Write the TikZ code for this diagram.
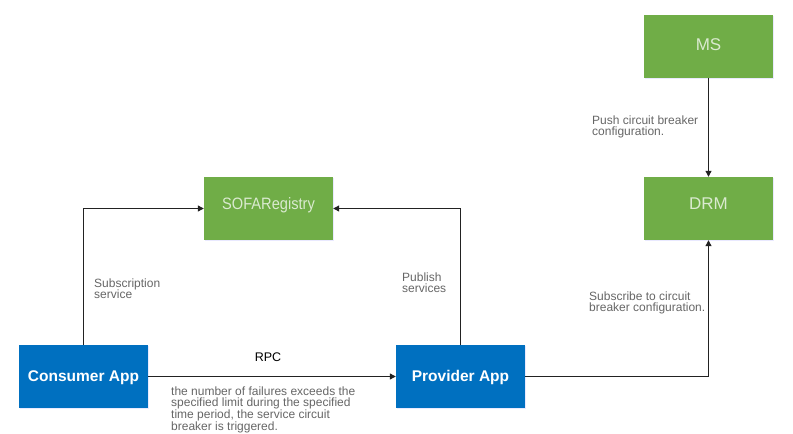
\documentclass[tikz,border=0pt]{standalone}
\usepackage{fontspec}
\setmainfont{Liberation Sans}
\usetikzlibrary{arrows.meta,shadows}
\definecolor{boxgreen}{RGB}{112,173,71}
\definecolor{boxblue}{RGB}{0,112,192}
\definecolor{greentext}{RGB}{218,234,208}
\definecolor{labelgray}{RGB}{102,102,102}
\definecolor{linecol}{RGB}{34,34,34}
\tikzset{
  gbox/.style={fill=boxgreen, draw=none, minimum width=129pt, minimum height=63pt, inner sep=0pt,
    text=greentext, font=\fontsize{17}{17}\selectfont, text height=12pt, text depth=9.6pt,
    drop shadow={shadow xshift=0.8pt, shadow yshift=-1.2pt, fill=blue!25, opacity=0.35}},
  bbox/.style={fill=boxblue, draw=none, minimum width=129pt, minimum height=63pt, inner sep=0pt,
    text=white, font=\fontsize{15.5}{15.5}\selectfont\bfseries, text height=12pt, text depth=3pt,
    drop shadow={shadow xshift=0.8pt, shadow yshift=-1.2pt, fill=blue!25, opacity=0.35}},
  lbl/.style={anchor=north west, inner sep=0pt, align=left, text=labelgray,
    font=\fontsize{12}{11.7}\selectfont},
  conn/.style={draw=linecol, line width=1.1pt, -{Triangle[width=6pt,length=6pt]}},
}
\begin{document}
\begin{tikzpicture}[x=1pt,y=-1pt]
\useasboundingbox (0,0) rectangle (793,434);
\node[gbox] (sofa) at (268.5,208.5) {\scalebox{0.86}[0.97]{SOFARegistry}};
\node[gbox, text depth=4.4pt] (ms) at (708.5,46.5) {MS};
\node[gbox] (drm) at (708.5,208.5) {DRM};
\node[bbox] (cons) at (83.5,376.5) {Consumer App};
\node[bbox] (prov) at (460.5,376.5) {Provider App};

\draw[conn] (cons.north) |- (sofa.west);
\draw[conn] (prov.north) |- (sofa.east);
\draw[conn] (cons.east) -- (prov.west);
\draw[conn] (prov.east) -| (drm.south);
\draw[conn] (ms.south) -- (drm.north);

\node[lbl] (lsub) at (94,278.3) {Subscription\\service};
\node[lbl] (lpub) at (402,272.3) {Publish\\services};
\node[lbl] (lsubcfg) at (589,291.3) {Subscribe to circuit\\breaker configuration.};
\node[lbl] (lpush) at (592,115.3) {Push circuit breaker\\configuration.};
\node[lbl] (lfail) at (171,386.3) {the number of failures exceeds the\\specified limit during the specified\\time period, the service circuit\\breaker is triggered.};
\node[anchor=base, inner sep=0pt, font=\fontsize{12.5}{12.5}\selectfont, text=black] (rpc) at (268,361) {RPC};
\end{tikzpicture}
\end{document}
